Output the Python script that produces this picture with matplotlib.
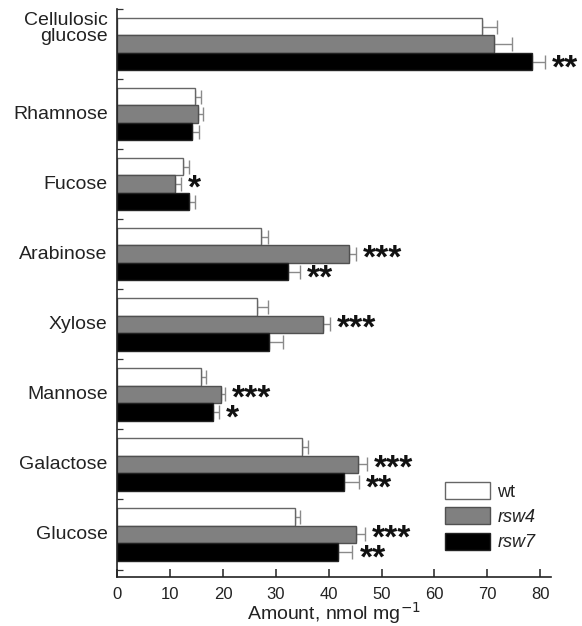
import matplotlib
matplotlib.use("Agg")
import matplotlib.pyplot as plt
import matplotlib.transforms as mtransforms
import numpy as np

plt.rcParams['font.family'] = ['Liberation Sans', 'DejaVu Sans']

categories = ["Cellulosic\nglucose", "Rhamnose", "Fucose", "Arabinose",
              "Xylose", "Mannose", "Galactose", "Glucose"]
series = ["wt", "rsw4", "rsw7"]
wt_vals = [69.0, 14.7, 12.5, 27.2, 26.5, 15.9, 35.0, 33.7]
wt_err = [2.8, 1.2, 1.0, 1.4, 2.1, 0.9, 1.0, 0.9]
rsw4_vals = [71.2, 15.2, 10.9, 43.8, 39.0, 19.6, 45.5, 45.2]
rsw4_err = [3.5, 1.1, 1.1, 1.3, 1.2, 0.7, 1.7, 1.6]
rsw7_vals = [78.4, 14.2, 13.6, 32.3, 28.7, 18.1, 42.8, 41.7]
rsw7_err = [2.6, 1.3, 1.1, 2.2, 2.6, 1.2, 3.0, 2.8]
# significance marks: (category index, series index, label)
stars = [(0, 2, "**"), (2, 1, "*"), (3, 1, "***"), (3, 2, "**"),
         (4, 1, "***"), (5, 1, "***"), (5, 2, "*"), (6, 1, "***"),
         (6, 2, "**"), (7, 1, "***"), (7, 2, "**")]
xticks = [0, 10, 20, 30, 40, 50, 60, 70, 80]

vals = [wt_vals, rsw4_vals, rsw7_vals]
errs = [wt_err, rsw4_err, rsw7_err]
fills = ["white", "#808080", "black"]
edges = ["#666666", "#505050", "#222222"]

fig = plt.figure(figsize=(5.82, 6.26), dpi=100)
ax = fig.add_axes([117.3 / 582, 1 - 577 / 626, 433.4 / 582, 568 / 626])

y = np.arange(len(categories))
h = 0.25
for k in range(3):
    yy = y + (k - 1) * h
    ax.barh(yy, vals[k], height=h, color=fills[k], edgecolor=edges[k],
            linewidth=1.0, label=series[k], zorder=2)
    ax.errorbar(vals[k], yy, xerr=[np.zeros(len(y)), errs[k]], fmt='none',
                ecolor="#8a8a8a", elinewidth=1.0, capsize=5, capthick=1.0,
                zorder=1)

star_dy = {1: -9.5, 2: -11.5}
for ci, si, lab in stars:
    xe = vals[si][ci] + errs[si][ci]
    ye = y[ci] + (si - 1) * h
    ax.annotate(lab, xy=(xe, ye), xytext=(5, star_dy.get(si, -10)),
                textcoords='offset points', ha='left', va='baseline',
                fontsize=24, fontweight='bold', color='#111111')

ax.set_xlim(0, 82)
ax.set_ylim(len(categories) - 1 + 0.607, -0.405)
ax.set_xticks(xticks)
ax.set_xticklabels([str(t) for t in xticks])
ax.tick_params(axis='x', direction='in', length=6, width=1.1, pad=7,
               labelsize=12, colors='#222222')
ax.set_yticks(np.arange(len(categories) + 1) - 0.5, minor=False)
ax.set_yticklabels([])
ax.tick_params(axis='y', direction='in', length=4, width=0.9, colors='#333333')

trans = mtransforms.blended_transform_factory(ax.transAxes, ax.transData)
for i, name in enumerate(categories):
    yo = y[i] - 0.22 if "\n" in name else y[i]
    ax.text(-0.022, yo, name, transform=trans, ha='right', va='center',
            fontsize=14, color='#222222', linespacing=0.88)

for s in ['top', 'right']:
    ax.spines[s].set_visible(False)
for s in ['left', 'bottom']:
    ax.spines[s].set_linewidth(1.2)
    ax.spines[s].set_color('#222222')

ax.set_xlabel("Amount, nmol mg$^{-1}$", fontsize=14, labelpad=-1,
              color='#222222')

leg = ax.legend(loc='upper left', bbox_to_anchor=(445 / 582, 1 - 482 / 626),
                bbox_transform=fig.transFigure, frameon=False, fontsize=13,
                handlelength=2.5, handleheight=1.05, handletextpad=0.4,
                labelspacing=0.38, borderpad=0, borderaxespad=0)
for t in leg.get_texts():
    t.set_color('#222222')
    if t.get_text() != "wt":
        t.set_style('italic')

fig.savefig("out.png", dpi=100)
